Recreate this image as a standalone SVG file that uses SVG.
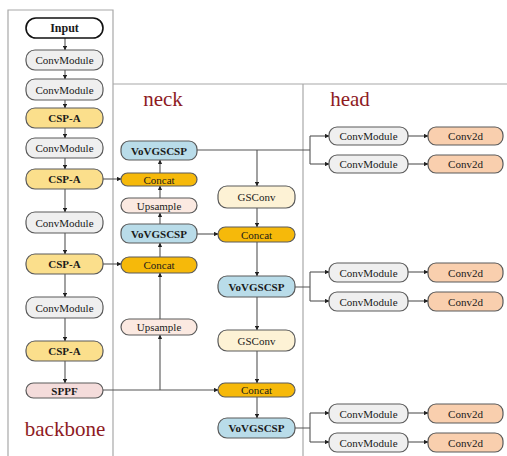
<svg xmlns="http://www.w3.org/2000/svg" width="507" height="456" viewBox="0 0 507 456">
<style>
.frame{fill:none;stroke:#a8a8a8;stroke-width:1.2}
.n rect{stroke:#5a5a5a;stroke-width:1.2}
.n text{font-family:"Liberation Serif","Times New Roman",serif;font-size:11px;fill:#1a1a1a;text-anchor:middle;dominant-baseline:central}
.b text{font-weight:bold}
.gray rect{fill:#efefef}
.csp rect{fill:#fbdf8c}
.cat rect{fill:#f6b90a}
.vov rect{fill:#b9dce9}
.ups rect{fill:#fbe9e1}
.gsc rect{fill:#fdf2d5}
.sppf rect{fill:#f4dcdb}
.c2d rect{fill:#f9cfae}
.lbl{font-family:"Liberation Serif","Times New Roman",serif;font-size:21px;fill:#8e1b1f}
#edges path{fill:none;stroke:#555;stroke-width:1.1}
</style>
<defs>
<marker id="ah" viewBox="0 0 6 6" refX="5.5" refY="3" markerWidth="4" markerHeight="4" orient="auto">
<path d="M0,0 L6,3 L0,6 z" fill="#222"/>
</marker>
</defs>
<rect width="507" height="456" fill="#ffffff"/>
<g id="frames">
<path class="frame" d="M8,456 V10 H113 V456"/>
<path class="frame" d="M113,84 H507"/>
<path class="frame" d="M303,84 V456"/>
</g>
<text class="lbl" x="163" y="106" text-anchor="middle">neck</text>
<text class="lbl" x="350" y="106" text-anchor="middle">head</text>
<text class="lbl" x="65" y="436" text-anchor="middle">backbone</text>

<g id="edges">
<path d="M65,38 V50" marker-end="url(#ah)"/>
<path d="M65,70 V79" marker-end="url(#ah)"/>
<path d="M65,100 V108" marker-end="url(#ah)"/>
<path d="M65,128 V138" marker-end="url(#ah)"/>
<path d="M65,158 V169" marker-end="url(#ah)"/>
<path d="M65,189 V212" marker-end="url(#ah)"/>
<path d="M65,233 V254" marker-end="url(#ah)"/>
<path d="M65,274 V297" marker-end="url(#ah)"/>
<path d="M65,318 V341" marker-end="url(#ah)"/>
<path d="M65,361 V383" marker-end="url(#ah)"/>
<path d="M103,179 H121" marker-end="url(#ah)"/>
<path d="M103,264 H121" marker-end="url(#ah)"/>
<path d="M103,390 H218" marker-end="url(#ah)"/>
<path d="M160,390 V335" marker-end="url(#ah)"/>
<path d="M160,319 V273" marker-end="url(#ah)"/>
<path d="M160,257 V243" marker-end="url(#ah)"/>
<path d="M160,224 V213" marker-end="url(#ah)"/>
<path d="M160,198 V186" marker-end="url(#ah)"/>
<path d="M160,173 V160" marker-end="url(#ah)"/>
<path d="M197,150 H310 M310,136 V164"/>
<path d="M257,150 V186" marker-end="url(#ah)"/>
<path d="M197,234 H218" marker-end="url(#ah)"/>
<path d="M257,208 V227" marker-end="url(#ah)"/>
<path d="M257,242 V276" marker-end="url(#ah)"/>
<path d="M257,297 V330" marker-end="url(#ah)"/>
<path d="M257,351 V383" marker-end="url(#ah)"/>
<path d="M257,397 V418" marker-end="url(#ah)"/>
<path d="M310,136 H329" marker-end="url(#ah)"/>
<path d="M310,164 H329" marker-end="url(#ah)"/>
<path d="M408,136 H428" marker-end="url(#ah)"/>
<path d="M408,164 H428" marker-end="url(#ah)"/>
<path d="M295,287 H310 M310,272 V301"/>
<path d="M310,272 H329" marker-end="url(#ah)"/>
<path d="M310,301 H329" marker-end="url(#ah)"/>
<path d="M408,272 H428" marker-end="url(#ah)"/>
<path d="M408,301 H428" marker-end="url(#ah)"/>
<path d="M295,428 H310 M310,413 V442"/>
<path d="M310,413 H329" marker-end="url(#ah)"/>
<path d="M310,442 H329" marker-end="url(#ah)"/>
<path d="M408,413 H428" marker-end="url(#ah)"/>
<path d="M408,442 H428" marker-end="url(#ah)"/>
</g>

<g id="input" class="n b"><rect x="26" y="18" width="77" height="20" rx="10" fill="#ffffff" style="stroke:#111;stroke-width:1.6"/><text x="64.5" y="28" style="font-size:12px">Input</text></g>
<g id="bb_conv1" class="n gray"><rect x="26" y="50" width="77" height="20" rx="9"/><text x="64.5" y="60">ConvModule</text></g>
<g id="bb_conv2" class="n gray"><rect x="26" y="79" width="77" height="21" rx="9"/><text x="64.5" y="89.5">ConvModule</text></g>
<g id="bb_csp1" class="n b csp"><rect x="26" y="108" width="77" height="20" rx="9"/><text x="64.5" y="118">CSP-A</text></g>
<g id="bb_conv3" class="n gray"><rect x="26" y="138" width="77" height="20" rx="9"/><text x="64.5" y="148">ConvModule</text></g>
<g id="bb_csp2" class="n b csp"><rect x="26" y="169" width="77" height="20" rx="9"/><text x="64.5" y="179">CSP-A</text></g>
<g id="bb_conv4" class="n gray"><rect x="26" y="212" width="77" height="21" rx="9"/><text x="64.5" y="222.5">ConvModule</text></g>
<g id="bb_csp3" class="n b csp"><rect x="26" y="254" width="77" height="20" rx="9"/><text x="64.5" y="264">CSP-A</text></g>
<g id="bb_conv5" class="n gray"><rect x="26" y="297" width="77" height="21" rx="9"/><text x="64.5" y="307.5">ConvModule</text></g>
<g id="bb_csp4" class="n b csp"><rect x="26" y="341" width="77" height="20" rx="9"/><text x="64.5" y="351">CSP-A</text></g>
<g id="bb_sppf" class="n b sppf"><rect x="26" y="383" width="77" height="15" rx="7.5"/><text x="64.5" y="390.5">SPPF</text></g>

<g id="nk_vov1" class="n b vov"><rect x="121" y="141" width="76" height="19" rx="8"/><text x="159" y="150.5">VoVGSCSP</text></g>
<g id="nk_cat1" class="n cat"><rect x="121" y="173" width="76" height="13" rx="6.5"/><text x="159" y="179.5">Concat</text></g>
<g id="nk_ups1" class="n ups"><rect x="121" y="198" width="76" height="15" rx="7.5"/><text x="159" y="205.5">Upsample</text></g>
<g id="nk_vov2" class="n b vov"><rect x="121" y="224" width="76" height="19" rx="8"/><text x="159" y="233.5">VoVGSCSP</text></g>
<g id="nk_cat2" class="n cat"><rect x="121" y="257" width="76" height="16" rx="8"/><text x="159" y="265">Concat</text></g>
<g id="nk_ups2" class="n ups"><rect x="121" y="319" width="76" height="16" rx="8"/><text x="159" y="327">Upsample</text></g>

<g id="nk_gs1" class="n gsc"><rect x="218" y="186" width="77" height="22" rx="9"/><text x="256.5" y="197">GSConv</text></g>
<g id="nk_cat3" class="n cat"><rect x="218" y="227" width="77" height="15" rx="7.5"/><text x="256.5" y="234.5">Concat</text></g>
<g id="nk_vov3" class="n b vov"><rect x="218" y="276" width="77" height="21" rx="9"/><text x="256.5" y="286.5">VoVGSCSP</text></g>
<g id="nk_gs2" class="n gsc"><rect x="218" y="330" width="77" height="21" rx="9"/><text x="256.5" y="340.5">GSConv</text></g>
<g id="nk_cat4" class="n cat"><rect x="218" y="383" width="77" height="14" rx="7"/><text x="256.5" y="390">Concat</text></g>
<g id="nk_vov4" class="n b vov"><rect x="218" y="418" width="77" height="20" rx="9"/><text x="256.5" y="428">VoVGSCSP</text></g>

<g id="hd_cm1" class="n gray"><rect x="329" y="127" width="79" height="18" rx="8"/><text x="368.5" y="136">ConvModule</text></g>
<g id="hd_c2d1" class="n c2d"><rect x="428" y="127" width="75" height="18" rx="8"/><text x="465.5" y="136">Conv2d</text></g>
<g id="hd_cm2" class="n gray"><rect x="329" y="155" width="79" height="18" rx="8"/><text x="368.5" y="164">ConvModule</text></g>
<g id="hd_c2d2" class="n c2d"><rect x="428" y="155" width="75" height="18" rx="8"/><text x="465.5" y="164">Conv2d</text></g>
<g id="hd_cm3" class="n gray"><rect x="329" y="263" width="79" height="19" rx="8"/><text x="368.5" y="272.5">ConvModule</text></g>
<g id="hd_c2d3" class="n c2d"><rect x="428" y="263" width="75" height="19" rx="8"/><text x="465.5" y="272.5">Conv2d</text></g>
<g id="hd_cm4" class="n gray"><rect x="329" y="292" width="79" height="19" rx="8"/><text x="368.5" y="301.5">ConvModule</text></g>
<g id="hd_c2d4" class="n c2d"><rect x="428" y="292" width="75" height="19" rx="8"/><text x="465.5" y="301.5">Conv2d</text></g>
<g id="hd_cm5" class="n gray"><rect x="329" y="404" width="79" height="19" rx="8"/><text x="368.5" y="413.5">ConvModule</text></g>
<g id="hd_c2d5" class="n c2d"><rect x="428" y="404" width="75" height="19" rx="8"/><text x="465.5" y="413.5">Conv2d</text></g>
<g id="hd_cm6" class="n gray"><rect x="329" y="433" width="79" height="19" rx="8"/><text x="368.5" y="442.5">ConvModule</text></g>
<g id="hd_c2d6" class="n c2d"><rect x="428" y="433" width="75" height="19" rx="8"/><text x="465.5" y="442.5">Conv2d</text></g>
</svg>
